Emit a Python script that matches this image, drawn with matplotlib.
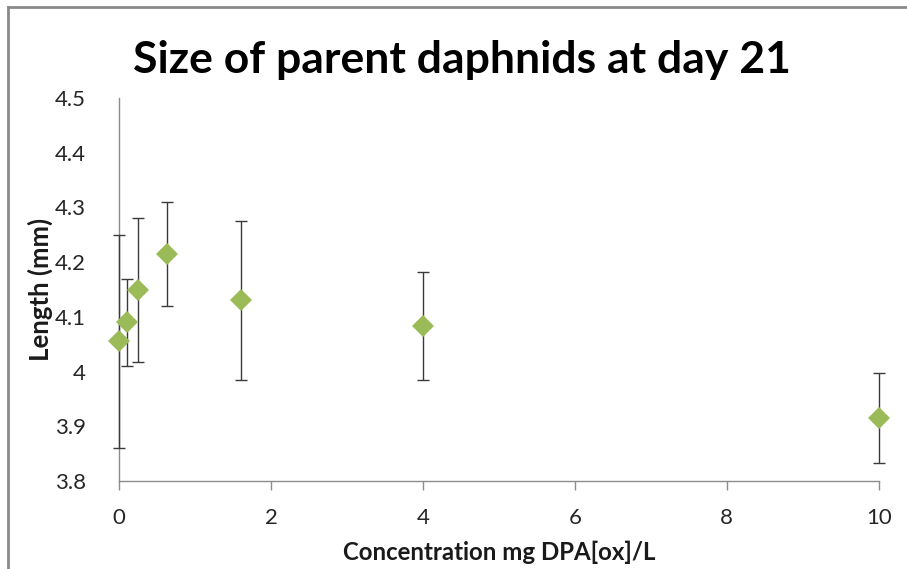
import matplotlib
matplotlib.use("Agg")
import matplotlib.pyplot as plt
from matplotlib.lines import Line2D

plt.rcParams['font.family'] = ['Lato', 'DejaVu Sans']

# concentration (mg DPA[ox]/L), mean length (mm) and spread
conc = [0, 0.1, 0.25, 0.625, 1.6, 4, 10]
length = [4.055, 4.090, 4.149, 4.215, 4.130, 4.083, 3.915]
err = [0.195, 0.080, 0.132, 0.095, 0.145, 0.099, 0.083]

x_ticks = [0, 2, 4, 6, 8, 10]
y_ticks = [3.8, 3.9, 4.0, 4.1, 4.2, 4.3, 4.4, 4.5]
y_ticklabels = ['3.8', '3.9', '4', '4.1', '4.2', '4.3', '4.4', '4.5']

W, H = 907, 569
fig = plt.figure(figsize=(W / 100, H / 100), dpi=100)
ax = fig.add_axes([119.3 / W, 1 - 481 / H, (878.7 - 119.3) / W, (481 - 98) / H])

bars = ax.errorbar(conc, length, yerr=err, fmt='none', ecolor='#3a3a3a',
                   elinewidth=1.0, capsize=4.4, capthick=1.0, zorder=3)
for artist in bars.lines[1] + bars.lines[2]:
    artist.set_clip_on(False)
ax.plot(conc, length, linestyle='none', marker='D', markersize=11.5,
        color='#9bbb59', markeredgewidth=0, zorder=4, clip_on=False)

ax.set_xlim(0, 10)
ax.set_ylim(3.8, 4.5)
ax.set_xticks(x_ticks)
ax.set_yticks(y_ticks)
ax.set_yticklabels(y_ticklabels)

for side in ['top', 'right']:
    ax.spines[side].set_visible(False)
for side in ['left', 'bottom']:
    ax.spines[side].set_color('#8c8c8c')
    ax.spines[side].set_linewidth(1.0)

ax.tick_params(axis='x', direction='out', length=6.5, width=1.0,
               color='#8c8c8c', labelsize=16, labelcolor='#262626', pad=13)
ax.tick_params(axis='y', length=0, labelsize=16, labelcolor='#262626', pad=24)

ax.set_xlabel('Concentration mg DPA[ox]/L', fontsize=17.3, fontweight='bold',
              color='#1a1a1a', labelpad=9)
ax.set_ylabel('Length (mm)', fontsize=18.5, fontweight='bold', color='#1a1a1a',
              labelpad=1)

fig.text(462 / W, 1 - 60 / H, 'Size of parent daphnids at day 21',
         ha='center', va='center', fontsize=32, fontweight='bold', color='#000000')

# chart frame
fig.add_artist(Line2D([8 / W, 1], [1 - 7 / H, 1 - 7 / H], transform=fig.transFigure,
                      color='#8a8a8a', linewidth=2))
fig.add_artist(Line2D([8 / W, 8 / W], [0, 1 - 7 / H], transform=fig.transFigure,
                      color='#8a8a8a', linewidth=2))

fig.savefig('out.png', dpi=100)
